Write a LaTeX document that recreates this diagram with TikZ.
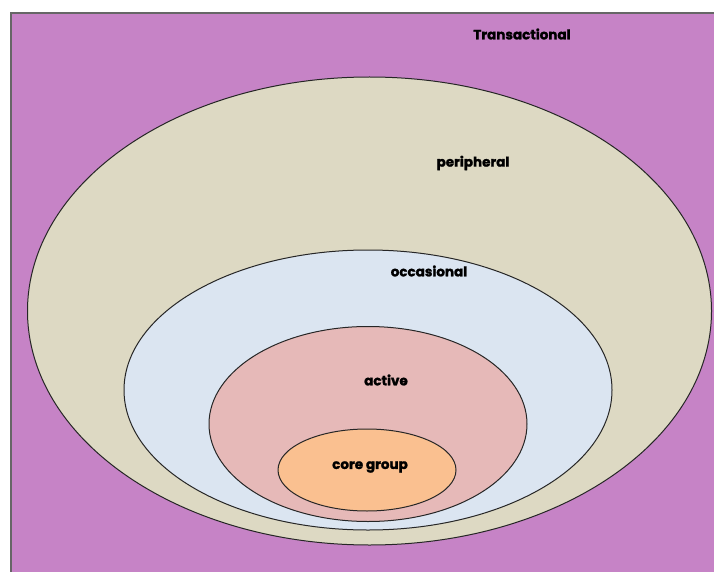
\documentclass[tikz,border=0pt]{standalone}
\usepackage{fontspec}
\setmainfont{Poppins}
\newfontfamily\lblfont{Poppins}[BoldFeatures={FakeBold=1.6}]
\usetikzlibrary{shapes.geometric}
\definecolor{bgpurple}{RGB}{198,131,198}
\definecolor{ringbeige}{RGB}{221,217,195}
\definecolor{ringblue}{RGB}{219,229,241}
\definecolor{ringpink}{RGB}{230,185,184}
\definecolor{ringorange}{RGB}{250,192,144}
\tikzset{
  ring/.style={ellipse, draw=black!85, line width=1pt, inner sep=0pt},
  lbl/.style={font=\lblfont\bfseries\fontsize{13.5}{15}\selectfont, text=black, inner sep=0pt}
}
\begin{document}
\begin{tikzpicture}[x=1pt,y=-1pt]
  \useasboundingbox (0,0) rectangle (714,572);
  % background field
  \fill[white] (0,0) rectangle (714,572);
  \draw[fill=bgpurple, draw=gray!80!black, line width=1.2pt] (11,13) rectangle (720,580);
  % nested rings
  \node[ring, fill=ringbeige,  minimum width=684pt, minimum height=468pt] (peripheral) at (369.5,311) {};
  \node[ring, fill=ringblue,   minimum width=488pt, minimum height=280pt] (occasional) at (368,390) {};
  \node[ring, fill=ringpink,   minimum width=318pt, minimum height=195pt] (active) at (368,424) {};
  \node[ring, fill=ringorange, minimum width=178pt, minimum height=82pt] (core) at (367,470) {};
  % labels
  \node[lbl] (tTrans) at (522,34) {Transactional};
  \node[lbl] (tPeri) at (473,163) {peripheral};
  \node[lbl] (tOcc) at (429,271) {occasional};
  \node[lbl] (tAct) at (386,380) {active};
  \node[lbl] (tCore) at (370,467) {core group};
\end{tikzpicture}
\end{document}
